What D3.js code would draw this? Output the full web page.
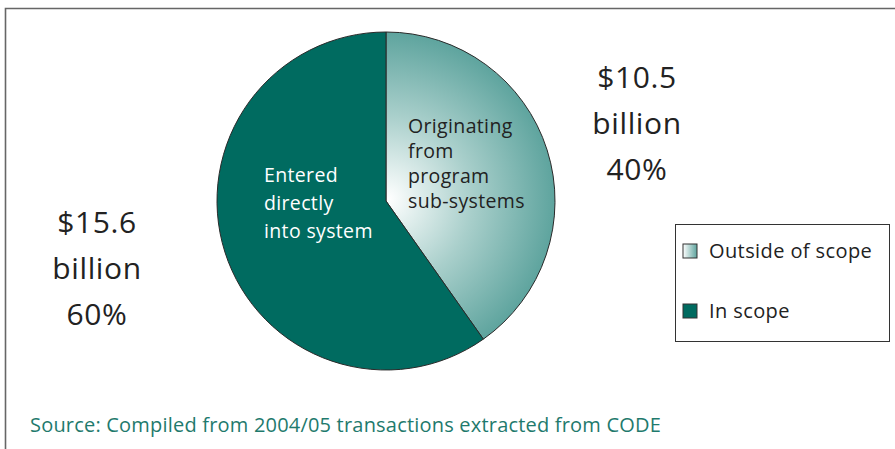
<!DOCTYPE html>
<html>
<head>
<meta charset="utf-8">
<script src="https://cdn.jsdelivr.net/npm/d3@7"></script>
<style>
  body { margin: 0; background: #fff; }
  svg { display: block; font-family: "Open Sans", Lato, sans-serif; }
</style>
</head>
<body>
<div id="chart"></div>
<script>
// data
var categories = ["Outside of scope", "In scope"];
var values = [10.5, 15.6];
var amountLabels = ["$10.5", "$15.6"];
var percentLabels = ["40%", "60%"];
var sliceLabels = [
  ["Originating", "from", "program", "sub-systems"],
  ["Entered", "directly", "into system"]
];
var sourceNote = "Source: Compiled from 2004/05 transactions extracted from CODE";

var w = 895, h = 449;
var cx = 386, cy = 201, r = 169;
var darkTeal = "#006b60";

var svg = d3.select("#chart")
  .append("svg")
  .attr("width", w)
  .attr("height", h);

var defs = svg.append("defs");
// gradient in the pie group's own coordinates (centre at 0,0)
var grad = defs.append("radialGradient")
  .attr("id", "lightGrad")
  .attr("gradientUnits", "userSpaceOnUse")
  .attr("cx", 0).attr("cy", 0)
  .attr("r", r)
  .attr("fx", 2).attr("fy", -2);
grad.append("stop").attr("offset", "0%").attr("stop-color", "#ffffff");
grad.append("stop").attr("offset", "50%").attr("stop-color", "#a9cfcb");
grad.append("stop").attr("offset", "100%").attr("stop-color", "#5ea49e");

var legGrad = defs.append("linearGradient")
  .attr("id", "legGrad")
  .attr("x1", "0%").attr("x2", "100%");
legGrad.append("stop").attr("offset", "0%").attr("stop-color", "#ffffff");
legGrad.append("stop").attr("offset", "100%").attr("stop-color", "#5ea49e");

var fills = ["url(#lightGrad)", darkTeal];
var legendFills = ["url(#legGrad)", darkTeal];

// outer frame (open on right and bottom)
svg.append("path")
  .attr("d", "M5.5," + h + " V8.5 H" + (w + 5))
  .attr("fill", "none")
  .attr("stroke", "#666")
  .attr("stroke-width", 1.6);

var pie = d3.pie().sort(null).value(function(d) { return d; });
var arc = d3.arc().innerRadius(0).outerRadius(r);

svg.append("g")
  .attr("transform", "translate(" + cx + "," + cy + ")")
  .selectAll("path")
  .data(pie(values))
  .enter()
  .append("path")
  .attr("d", arc)
  .attr("fill", function(d, i) { return fills[i]; })
  .attr("stroke", "#2a2a2a")
  .attr("stroke-width", 1);

// labels inside the slices
var inner = [
  { x: cx + 22, y: cy - 68, fill: "#222" },
  { x: cx - 122, y: cy - 19, fill: "#fff" }
];
var lineGap = [25, 28];
sliceLabels.forEach(function(lines, i) {
  var t = svg.append("text")
    .attr("x", inner[i].x)
    .attr("y", inner[i].y)
    .attr("fill", inner[i].fill)
    .style("font-size", "19.5px")
    .style("letter-spacing", "0.35px");
  lines.forEach(function(s, j) {
    t.append("tspan")
      .attr("x", inner[i].x)
      .attr("y", inner[i].y + j * lineGap[i])
      .text(s);
  });
});

// amount labels outside
var outer = [
  { x: 637, y: 88 },
  { x: 97, y: 233 }
];
values.forEach(function(v, i) {
  var lines = [amountLabels[i], "billion", percentLabels[i]];
  var t = svg.append("text")
    .attr("text-anchor", "middle")
    .attr("fill", "#222")
    .style("font-size", "30px")
    .style("letter-spacing", "0.6px");
  lines.forEach(function(s, j) {
    t.append("tspan")
      .attr("x", outer[i].x)
      .attr("y", outer[i].y + j * 46)
      .text(s);
  });
});

// legend
var legend = svg.append("g");
legend.append("rect")
  .attr("x", 675.5).attr("y", 224.5)
  .attr("width", 214).attr("height", 117)
  .attr("fill", "#fff")
  .attr("stroke", "#333")
  .attr("stroke-width", 1);

var items = legend.selectAll("g.item")
  .data(categories)
  .enter()
  .append("g")
  .attr("class", "item")
  .attr("transform", function(d, i) { return "translate(683," + (244 + i * 60) + ")"; });

items.append("rect")
  .attr("width", 14).attr("height", 14)
  .attr("fill", function(d, i) { return legendFills[i]; })
  .attr("stroke", "#333")
  .attr("stroke-width", 1);

items.append("text")
  .attr("x", 26)
  .attr("y", 14)
  .attr("fill", "#222")
  .style("font-size", "20px")
  .style("letter-spacing", "0.4px")
  .text(function(d) { return d; });

// source
svg.append("text")
  .attr("x", 30)
  .attr("y", 432)
  .attr("fill", "#1f7a6d")
  .style("font-size", "20px")
  .style("letter-spacing", "0.2px")
  .text(sourceNote);
</script>
</body>
</html>
